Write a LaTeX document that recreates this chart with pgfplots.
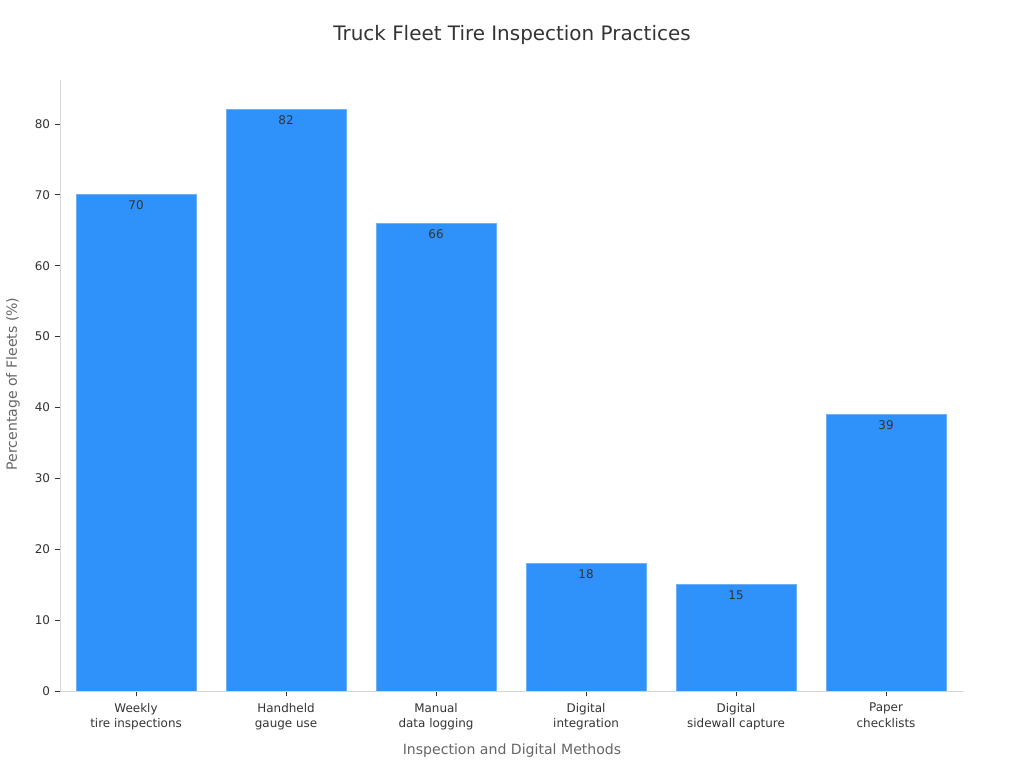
\documentclass[border=0pt]{standalone}
\usepackage{pgfplots}
\pgfplotsset{compat=1.18}
\usepackage{fontspec}
\setmainfont{DejaVu Sans}
\definecolor{barblue}{RGB}{46,146,250}
\definecolor{baredge}{RGB}{110,175,245}
\definecolor{axgray}{RGB}{214,214,214}
\definecolor{txtdark}{RGB}{51,51,51}
\definecolor{lblgray}{RGB}{102,102,102}

\begin{document}
\begin{tikzpicture}[x=1bp,y=1bp]
\path[use as bounding box] (0,0) rectangle (768,576);
\begin{axis}[
    at={(45bp,57.75bp)}, anchor=south west,
    scale only axis,
    width=677.25bp, height=458.25bp,
    xmin=-0.507, xmax=5.513,
    ymin=0, ymax=86.2,
    axis x line*=bottom, axis y line*=left,
    axis line style={draw=axgray, line width=0.6pt, -},
    xtick=data,
    xticklabels={Weekly\\tire inspections, Handheld\\gauge use, Manual\\data logging, Digital\\integration, Digital\\sidewall capture, Paper\\checklists},
    xticklabel style={align=center, yshift=-1.5bp, font=\fontsize{9}{11.5}\selectfont, text=txtdark},
    ytick={0,10,...,80},
    yticklabel style={font=\fontsize{9}{11}\selectfont, text=txtdark},
    /pgf/number format/assume math mode=true,
    tick align=outside,
    major tick length=4bp,
    tick style={draw=txtdark, line width=0.6pt},
    ybar, bar width=0.8,
    nodes near coords,
    every node near coord/.append style={anchor=north, yshift=-1bp, font=\fontsize{9}{11}\selectfont, text=txtdark},
]
\addplot[fill=barblue, draw=baredge, line width=0.5pt] coordinates {
    (0,70) (1,82) (2,66) (3,18) (4,15) (5,39)
};
\end{axis}
\node[font=\fontsize{15}{18}\selectfont, text=txtdark] at (384,549.75) {Truck Fleet Tire Inspection Practices};
\node[font=\fontsize{10.6}{12}\selectfont, text=lblgray, rotate=90] at (9.75,288) {Percentage of Fleets (\%)};
\node[font=\fontsize{10.6}{12}\selectfont, text=lblgray] at (384,12.75) {Inspection and Digital Methods};
\end{tikzpicture}
\end{document}
